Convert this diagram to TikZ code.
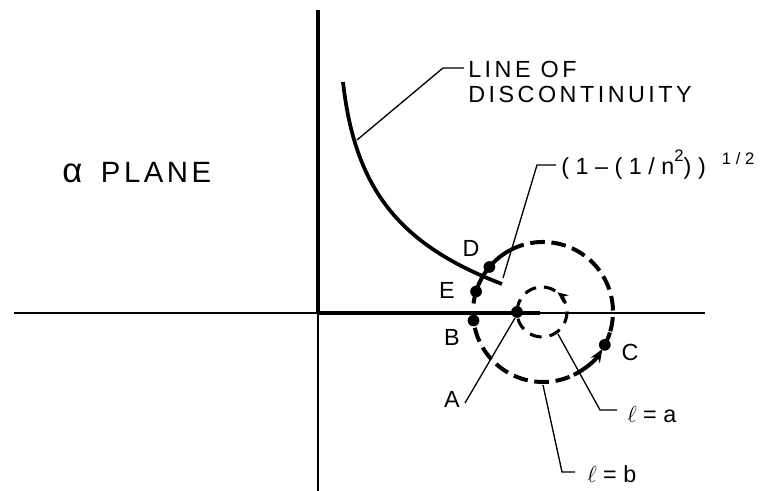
\documentclass[tikz,border=0pt]{standalone}
\usepackage{fontspec}
\setmainfont{Liberation Sans}
\usetikzlibrary{arrows.meta}
\begin{document}
\begin{tikzpicture}[x=0.75pt,y=0.75pt,
  lbl/.style={inner sep=0pt, font=\fontsize{17.5}{21}\selectfont\addfontfeature{LetterSpace=15}},
  letter/.style={inner sep=0pt, font=\fontsize{17.5}{21}\selectfont},
  leader/.style={line width=1pt},
  dotn/.style={circle, fill=black, inner sep=0pt, minimum size=8.8pt},
  bigdash/.style={line width=3pt, dash pattern=on 11pt off 5pt},
  bigsolid/.style={line width=3pt},
  smalldash/.style={line width=2.3pt, dash pattern=on 9pt off 6pt},
]
\useasboundingbox (0,0) rectangle (767,491);
% axes
\coordinate (O) at (318,178);
\coordinate (ytop) at (318,481);
\coordinate (ybot) at (318,0);
\coordinate (xl) at (14,178);
\coordinate (xm) at (540,178);
\coordinate (xr) at (705,178);
\draw[line width=3pt] (O) -- (ytop);
\draw[line width=1.3pt] (O) -- (ybot);
\draw[line width=2pt] (xl) -- (O);
\draw[line width=3pt] (O) -- (xm);
\draw[line width=1.6pt] (xm) -- (xr);
% line of discontinuity
\coordinate (cs) at (343,409);
\coordinate (ce) at (502,207);
\draw[line width=2.8pt] (cs) .. controls (355,301) and (400,246) .. (ce);
% big circle path
\coordinate (bc) at (543,179);
\draw[bigdash] ([shift={(118:70)}]bc) arc[start angle=118,end angle=-16,radius=70];
\draw[bigsolid] ([shift={(173:70)}]bc) arc[start angle=173,end angle=118,radius=70];
\draw[bigsolid] ([shift={(180:70)}]bc) arc[start angle=180,end angle=188,radius=70];
\draw[bigdash] ([shift={(193:70)}]bc) arc[start angle=193,end angle=296,radius=70];
\draw[bigsolid,-{Stealth[length=10pt,width=8pt]}] ([shift={(296:70)}]bc) arc[start angle=296,end angle=328,radius=70];
\draw[bigsolid] ([shift={(-29:70)}]bc) arc[start angle=-29,end angle=-17,radius=70];
% small circle path
\coordinate (sc) at (542,179);
\draw[smalldash] ([shift={(58:25)}]sc) arc[start angle=58,end angle=372,radius=25];
\draw[line width=2.3pt,-{Stealth[length=8pt,width=7pt]}] ([shift={(20:25)}]sc) arc[start angle=20,end angle=52,radius=25];
% dots
\node[dotn] (dD) at ([shift={(140:70)}]bc) {};
\node[dotn] (dE) at ([shift={(163:70)}]bc) {};
\node[dotn] (dB) at ([shift={(187:70)}]bc) {};
\node[dotn] (dC) at ([shift={(-28:70)}]bc) {};
\node[dotn] (dA) at ([shift={(180:25)}]sc) {};
% point labels
\node[letter] (tD) at (471,243) {D};
\node[letter] (tE) at (447,201) {E};
\node[letter] (tB) at (452,154) {B};
\node[letter] (tC) at (630,139) {C};
\node[letter] (tA) at (452,92) {A};
% title
\node[anchor=base west, inner sep=0pt, font=\fontsize{22}{26}\selectfont\addfontfeature{LetterSpace=12}] (plane) at (62,308) {{\fontsize{26}{30}\selectfont α}\hspace{14pt}PLANE};
% line of discontinuity label
\node[lbl, anchor=base west] (lineof) at (468,413) {LINE OF};
\node[lbl, anchor=base west] (discont) at (468,388) {DISCONTINUITY};
\coordinate (lodc) at (357,351);
\coordinate (lodk) at (443,423);
\coordinate (lode) at (464,423);
\draw[leader] (lodc) -- (lodk) -- (lode);
% formula label
\node[anchor=base west, inner sep=0pt, font=\fontsize{17.5}{21}\selectfont\addfontfeature{LetterSpace=28}] (formula) at (561,316) {(1–(1/n\raisebox{10pt}{\fontsize{12.5}{14}\selectfont 2})\hspace{5pt})\hspace{12pt}\raisebox{8pt}{\fontsize{12.5}{14}\selectfont\addfontfeature{LetterSpace=28}1/2}};
\coordinate (fc) at (503,213);
\coordinate (fk) at (537,326);
\coordinate (fe) at (556,326);
\draw[leader] (fc) -- (fk) -- (fe);
% A leader
\coordinate (ac) at (515,173);
\coordinate (ak) at (465,88);
\draw[leader] (ac) -- (ak);
% l = a
\node[letter, anchor=base west] (la) at (627,68) {$\ell$ = a};
\coordinate (lac) at (558,157);
\coordinate (lak) at (600,81);
\coordinate (lae) at (617,81);
\draw[leader] (lac) -- (lak) -- (lae);
% l = b
\node[letter, anchor=base west] (lb) at (587,8) {$\ell$ = b};
\coordinate (lbc) at (543,106);
\coordinate (lbk) at (562,19);
\coordinate (lbe) at (575,19);
\draw[leader] (lbc) -- (lbk) -- (lbe);
\end{tikzpicture}
\end{document}
